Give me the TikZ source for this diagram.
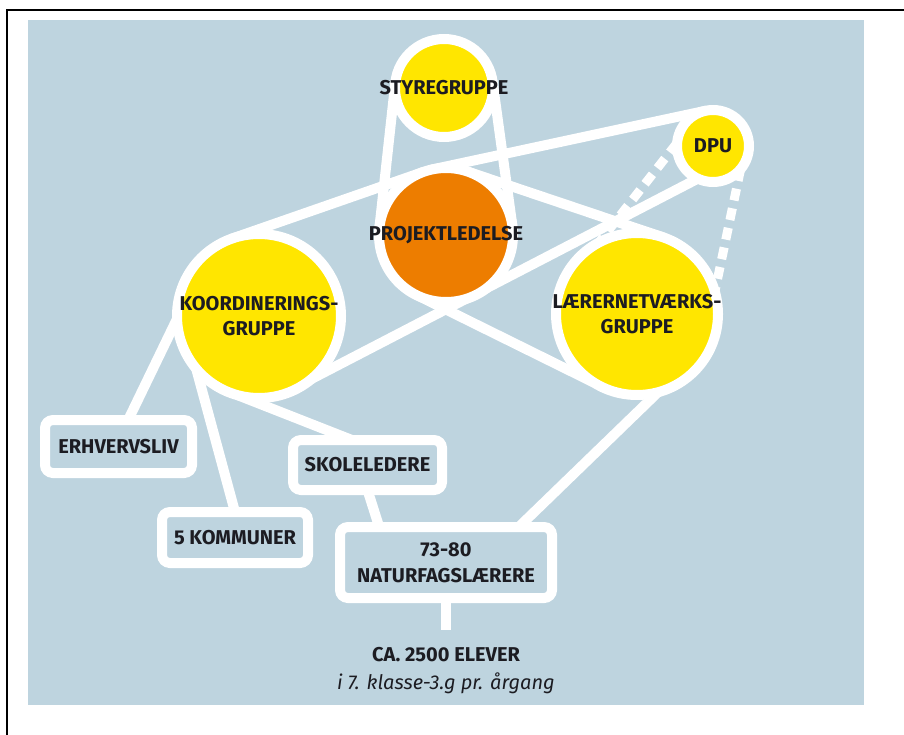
\documentclass[tikz,border=0pt]{standalone}
\usepackage{fontspec}
\setmainfont{Fira Sans}
\definecolor{panel}{RGB}{190,212,223}
\definecolor{gul}{RGB}{255,230,0}
\definecolor{ledelse}{RGB}{237,125,0}
\definecolor{tekst}{RGB}{28,28,34}
\pgfdeclarelayer{back}
\pgfdeclarelayer{links}
\pgfsetlayers{back,links,main}
\tikzset{
  ring/.style={circle, draw=white, line width=10pt, fill=gul, inner sep=0pt, outer sep=0pt},
  boks/.style={rectangle, draw=white, line width=10pt, fill=panel, rounded corners=8pt,
    inner sep=0pt, outer sep=0pt, text=tekst, align=center,
    font=\fontsize{20}{26}\selectfont\bfseries},
  navn/.style={text=tekst, align=center, font=\fontsize{20}{25}\selectfont\bfseries},
  link/.style={draw=white, line width=10pt, line cap=round},
  stiplet/.style={draw=white, line width=9pt, dash pattern=on 12pt off 8pt}
}
\begin{document}
\begin{tikzpicture}[x=1pt, y=-1pt]
   \useasboundingbox (0,0) rectangle (904,735);
   \def\Xl{28}
   \def\Xr{864}
   \def\Yt{20}
   \def\Yb{705}

   % background
   \begin{pgfonlayer}{back}
        \fill[panel] (\Xl, \Yt) rectangle (\Xr, \Yb);
        \draw[line width=2.5pt] (7, 735) -- (7, 10) -- (904, 10);
   \end{pgfonlayer}

   % circles
        \node[ring, minimum size=98pt, label={[navn]center:STYREGRUPPE}] (styre) at (444, 88) {};
        \node[ring, minimum size=72pt, label={[navn]center:DPU}] (dpu) at (713, 146) {};
        \node[ring, fill=ledelse, minimum size=134pt, label={[navn]center:PROJEKTLEDELSE}] (projekt) at (446, 235) {};
        \node[ring, minimum size=164pt, label={[navn]center:KOORDINERINGS-\\GRUPPE}] (koord) at (259, 316) {};
        \node[ring, minimum size=162pt, label={[navn]center:LÆRERNETVÆRKS-\\GRUPPE}] (laerer) at (637, 314) {};

   % boxes
        \node[boks, minimum width=147pt, minimum height=53pt] (erhverv) at (118.5, 446.5) {ERHVERVSLIV};
        \node[boks, minimum width=146pt, minimum height=51pt] (kommuner) at (235, 537.5) {5 KOMMUNER};
        \node[boks, minimum width=149pt, minimum height=50pt] (skole) at (367.5, 465) {SKOLELEDERE};
        \node[boks, minimum width=212pt, minimum height=71pt] (natur) at (446, 562.5) {73-80\\NATURFAGSLÆRERE};
        \node[text=tekst, align=center, anchor=north, inner sep=0pt,
              font=\fontsize{20}{28}\selectfont] (elever) at (446, 647)
              {{\bfseries CA. 2500 ELEVER}\\{\itshape i 7. klasse-3.g pr. årgang}};

   % lines
   \begin{pgfonlayer}{links}
        \draw[link] (styre.174) -- (projekt.174);
        \draw[link] (styre.8) -- (projekt.8);
        \draw[link] (koord.110) -- (projekt.110);
        \draw[link] (projekt.102) -- (dpu.102);
        \draw[link] (koord.-50) -- (dpu.-115);
        \draw[link] (projekt.71) -- (laerer.71);
        \draw[link] (projekt.-112) -- (laerer.-122);
        \draw[stiplet] (dpu.175) -- (laerer.118);
        \draw[stiplet] (dpu.-40) -- (laerer.16);
        \draw[link] (koord.182) -- (erhverv.70);
        \draw[link] (koord.-140) -- (kommuner.north);
        \draw[link] (koord.-105) -- (skole.122);
        \draw[link] (skole.south) -- (natur.152);
        \draw[link] (laerer.-75) -- (natur.26);
        \draw[link, line cap=butt, shorten >=17pt] (natur.south) -- (elever.north);
   \end{pgfonlayer}
\end{tikzpicture}
\end{document}
